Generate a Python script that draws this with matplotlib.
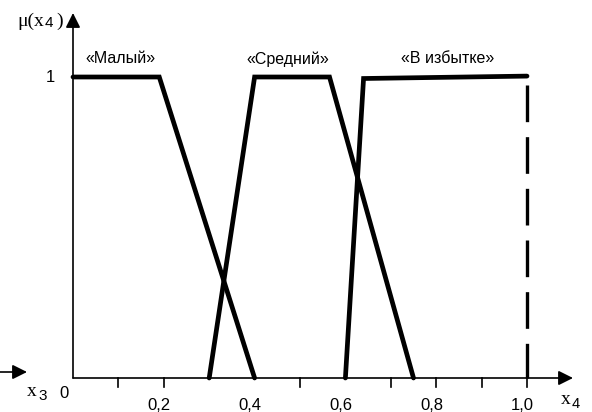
import matplotlib
matplotlib.use("Agg")
import matplotlib.pyplot as plt

# membership functions (x4 values, mu values)
malyi_x = [0.0, 0.19, 0.40]
malyi_y = [1.0, 1.0, 0.0]
sredniy_x = [0.30, 0.40, 0.565, 0.75]
sredniy_y = [0.0, 1.0, 1.0, 0.0]
izbytok_x = [0.60, 0.64, 1.0]
izbytok_y = [0.0, 0.995, 1.003]

tick_pos = [0.1, 0.2, 0.5, 0.7, 0.8, 0.9, 1.0]
label_pos = [0.2, 0.4, 0.6, 0.8, 1.0]
label_txt = ["0,2", "0,4", "0,6", "0,8", "1,0"]

names = ["«Малый»", "«Средний»", "«В избытке»"]
name_x = [0.104, 0.474, 0.826]

W, H = 592, 412
x0, y0 = 73, 378
sx, sy = 454, 301

fig = plt.figure(figsize=(W / 100, H / 100), dpi=100)
ax = fig.add_axes([0, 0, 1, 1])
ax.set_xlim(-x0 / sx, (W - x0) / sx)
ax.set_ylim((y0 - H) / sy, y0 / sy)
ax.axis("off")

sans = "Liberation Sans"
serif = "Liberation Serif"

# axes with arrows
arr = dict(arrowstyle="-|>", lw=1.2, color="black", mutation_scale=22, shrinkA=0, shrinkB=0)
ax.annotate("", xy=(0, (y0 - 13) / sy), xytext=(0, 0), arrowprops=arr)
ax.annotate("", xy=((573 - x0) / sx, 0), xytext=(0, 0), arrowprops=arr)
ax.annotate("", xy=((27 - x0) / sx, 6 / sy), xytext=(-x0 / sx, 6 / sy), arrowprops=arr)

for t in tick_pos:
    ax.plot([t, t], [0, -9 / sy], color="black", lw=1.2)

for t, s in zip(label_pos, label_txt):
    ax.text(t - 0.01, -27 / sy, s, ha="center", va="center", fontsize=12, family=sans)
ax.text(-9 / sx, -16 / sy, "0", ha="center", va="center", fontsize=12, family=sans)
ax.text(-23 / sx, 1.0, "1", ha="center", va="center", fontsize=12, family=sans)

# axis titles
ax.text((27 - x0) / sx, -13 / sy, "x", ha="left", va="center", fontsize=14, family=serif)
ax.text((38 - x0) / sx, -18 / sy, "3", ha="left", va="center", fontsize=11, family=sans)
ax.text((561 - x0) / sx, -22 / sy, "x", ha="left", va="center", fontsize=14, family=serif)
ax.text((572 - x0) / sx, -26 / sy, "4", ha="left", va="center", fontsize=10.5, family=sans)
ax.text((17 - x0) / sx, (y0 - 21) / sy, "μ(x", ha="left", va="center", fontsize=14, family=serif)
ax.text((45 - x0) / sx, (y0 - 23) / sy, "4", ha="left", va="center", fontsize=11, family=sans)
ax.text((56 - x0) / sx, (y0 - 21) / sy, ")", ha="left", va="center", fontsize=14, family=serif)

# membership curves
kw = dict(color="black", lw=3.4, solid_capstyle="round", solid_joinstyle="miter")
ax.plot(malyi_x, malyi_y, **kw)
ax.plot(sredniy_x, sredniy_y, **kw)
ax.plot(izbytok_x, izbytok_y, **kw)
ax.plot([1.0, 1.0], [0.975, 0.0], color="black", lw=2.4, dashes=(11, 4.5))

for s, x in zip(names, name_x):
    ax.text(x, 1.06, s, ha="center", va="center", fontsize=11.5, family=sans)

fig.savefig("out.png", dpi=100)
